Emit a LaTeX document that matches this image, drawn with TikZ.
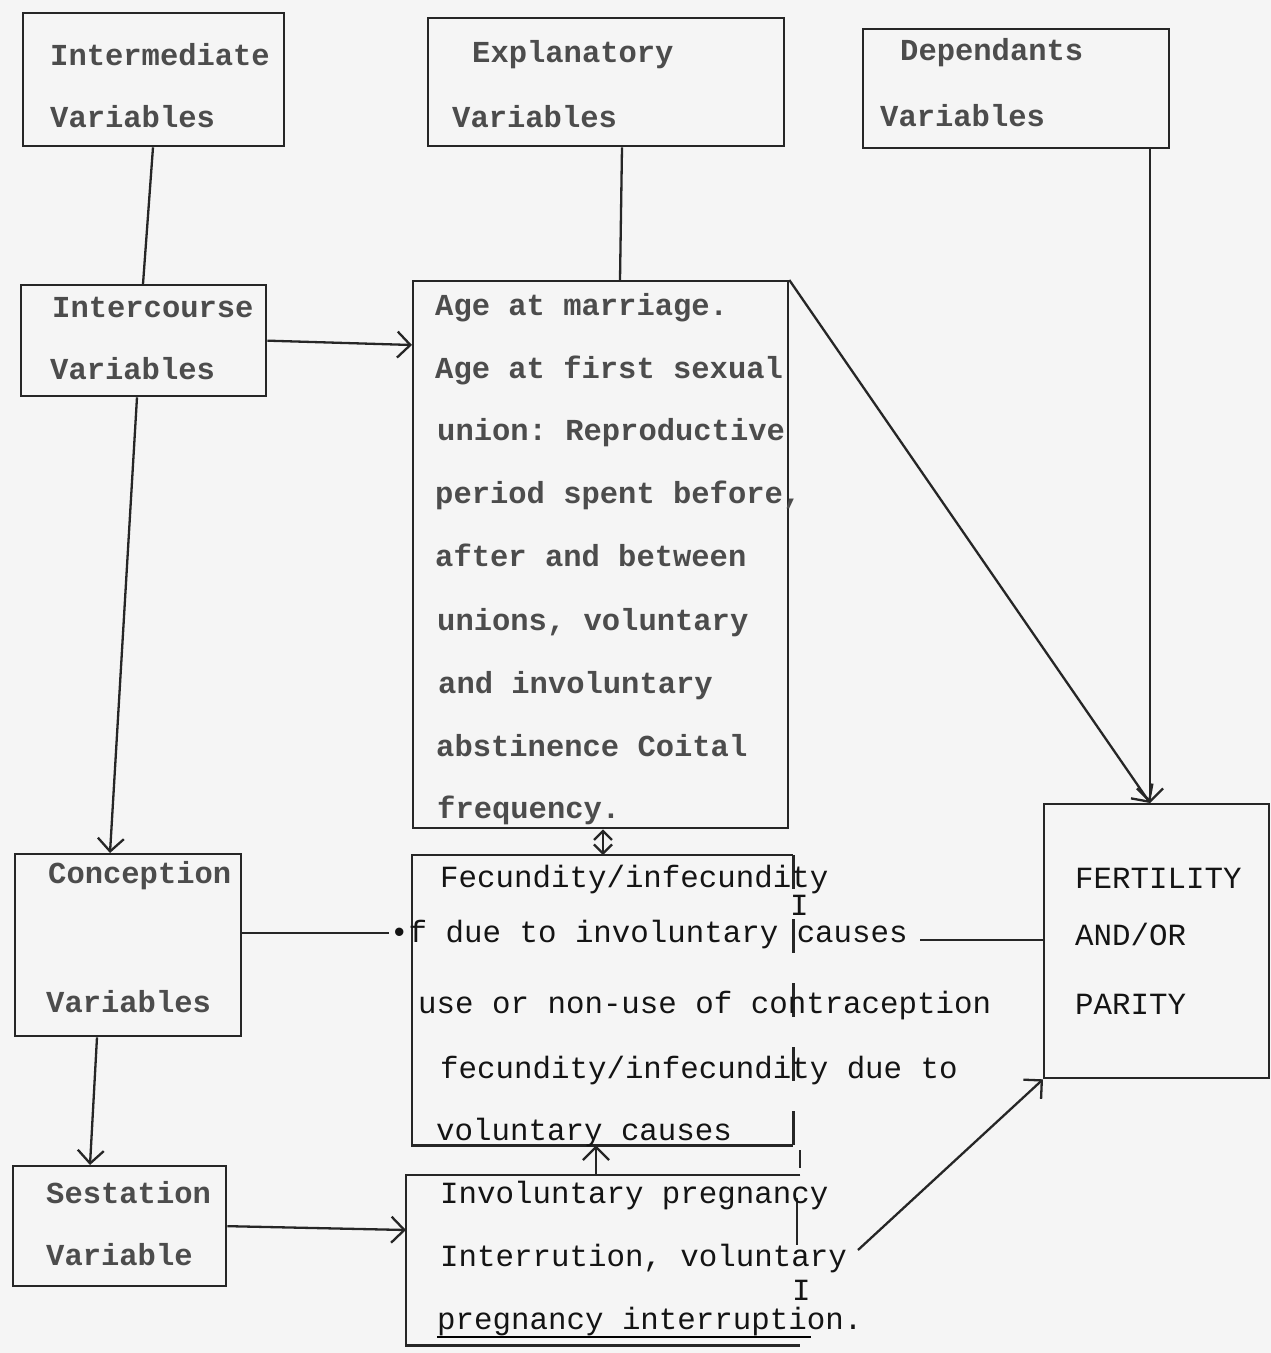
\documentclass[tikz,border=0pt]{standalone}
\usepackage{fontspec}
\setmonofont{Liberation Mono}
\usetikzlibrary{arrows.meta,calc}
\begin{document}
\begin{tikzpicture}[x=1pt,y=-1pt,
  ink/.style={draw=black!85,line width=2.3pt},
  area/.style={rectangle,inner sep=0pt,anchor=north west},
  box/.style={area,ink},
  hd/.style={anchor=base west,inner sep=0pt,font=\fontsize{30.5}{36}\selectfont\ttfamily\bfseries,text=black!70},
  tx/.style={anchor=base west,inner sep=0pt,text height=21pt,text depth=7pt,font=\fontsize{30.8}{36}\selectfont\ttfamily,text=black!92},
  mark I/.style={tx,text height=18pt,text depth=0pt},
  arr/.style={ink,-{Straight Barb[length=13pt,width=26pt,line width=2.3pt]}},
  darr/.style={ink,{Straight Barb[length=9pt,width=18pt,line width=2.3pt]}-{Straight Barb[length=9pt,width=18pt,line width=2.3pt]}}
]
\useasboundingbox (0,0) rectangle (1271,1353);
\fill[black!4] (0,0) rectangle (1271,1353);

% boxes
\node[box,minimum width=261pt,minimum height=133pt] (inter) at (22,12) {};
\node[box,minimum width=356pt,minimum height=128pt] (expl) at (427,17) {};
\node[box,minimum width=306pt,minimum height=119pt] (dep) at (862,28) {};
\node[box,minimum width=245pt,minimum height=111pt] (icourse) at (20,284) {};
\node[box,minimum width=375pt,minimum height=547pt] (age) at (412,280) {};
\node[box,minimum width=226pt,minimum height=182pt] (conc) at (14,853) {};
\node[box,minimum width=213pt,minimum height=120pt] (sest) at (12,1165) {};
\node[box,minimum width=225pt,minimum height=274pt] (fert) at (1043,803) {};
\node[area,minimum width=381pt,minimum height=290pt] (fec) at (412,855) {};
\node[area,minimum width=394pt,minimum height=170pt] (invol) at (406,1175) {};

% open-sided boxes
\draw[ink] (fec.north east) -- (fec.north west) -- (fec.south west) -- (fec.south east);
\draw[ink,dash pattern=on 34pt off 30pt] (fec.north east) -- (fec.south east);
\draw[ink] (invol.north east) -- (invol.north west) -- (invol.south west) -- (invol.south east);
\draw[ink] (800,1150) -- (800,1168);
\draw[ink] (797,1198) -- (797,1245);

% header texts
\node[hd] (t1) at (50,65) {Intermediate};
\node[hd] (t2) at (50,127) {Variables};
\node[hd] (t3) at (472,62) {Explanatory};
\node[hd] (t4) at (452,127) {Variables};
\node[hd] (t5) at (900,60) {Dependants};
\node[hd] (t6) at (880,126) {Variables};
\node[hd] (t7) at (52,317) {Intercourse};
\node[hd] (t8) at (50,379) {Variables};
\node[hd] (t9) at (48,883) {Conception};
\node[hd] (t10) at (46,1012) {Variables};
\node[hd] (t11) at (46,1203) {Sestation};
\node[hd] (t12) at (46,1265) {Variable};

% age box text
\node[hd] (a1) at (435,315) {Age at marriage.};
\node[hd] (a2) at (435,378) {Age at first sexual};
\node[hd] (a3) at (437,440) {union: Reproductive};
\node[hd] (a4) at (435,503) {period spent before,};
\node[hd] (a5) at (435,566) {after and between};
\node[hd] (a6) at (437,630) {unions, voluntary};
\node[hd] (a7) at (438,693) {and involuntary};
\node[hd] (a8) at (436,756) {abstinence Coital};
\node[hd] (a9) at (437,818) {frequency.};

% fecundity box text
\node[tx] (f1) at (440,887) {Fecundity/infecundity};
\node[mark I] (f2) at (790,915) {I};
\node[tx] (f3) at (390,942) {•f due to involuntary causes};
\node[tx] (f4) at (418,1013) {use or non-use of contraception};
\node[tx] (f5) at (440,1078) {fecundity/infecundity due to};
\node[tx] (f6) at (436,1140) {voluntary causes};

% involuntary box text
\node[tx] (v1) at (440,1203) {Involuntary pregnancy};
\node[tx] (v2) at (440,1266) {Interrution, voluntary};
\node[mark I] (v3) at (792,1300) {I};
\node[tx] (v4) at (437,1329) {pregnancy interruption.};
\draw[black,line width=2pt] (437,1337) -- (811,1337);

% fertility text
\node[tx] (r1) at (1075,888) {FERTILITY};
\node[tx] (r2) at (1075,945) {AND/OR};
\node[tx] (r3) at (1075,1014) {PARITY};

% connectors
\draw[ink] (153,0 |- inter.south) -- (143,0 |- icourse.north);
\draw[ink] (622,0 |- expl.south) -- (620,0 |- age.north);
\draw[arr] (1150,0 |- dep.south) -- (1150,0 |- fert.north);
\draw[arr] (age.north east) -- (1150,0 |- fert.north);
\draw[arr] (icourse.east) -- (age.west |- 0,345);
\draw[arr] (137,0 |- icourse.south) -- (110,0 |- conc.north);
\coordinate (bul) at (389,933);
\draw[ink] (conc.east |- 0,933) -- (bul);
\coordinate (cend) at (920,940);
\draw[ink] (cend) -- (fert.west |- cend);
\draw[arr] (97,0 |- conc.south) -- (90,0 |- sest.north);
\draw[arr] (sest.east) -- (invol.west |- 0,1230);
\coordinate (vend) at (858,1250);
\draw[arr] (vend) -- (fert.south west);
\draw[arr] (596,0 |- invol.north) -- (596,0 |- fec.south);
\draw[darr] (603,0 |- age.south) -- (603,0 |- fec.north);
\end{tikzpicture}
\end{document}
